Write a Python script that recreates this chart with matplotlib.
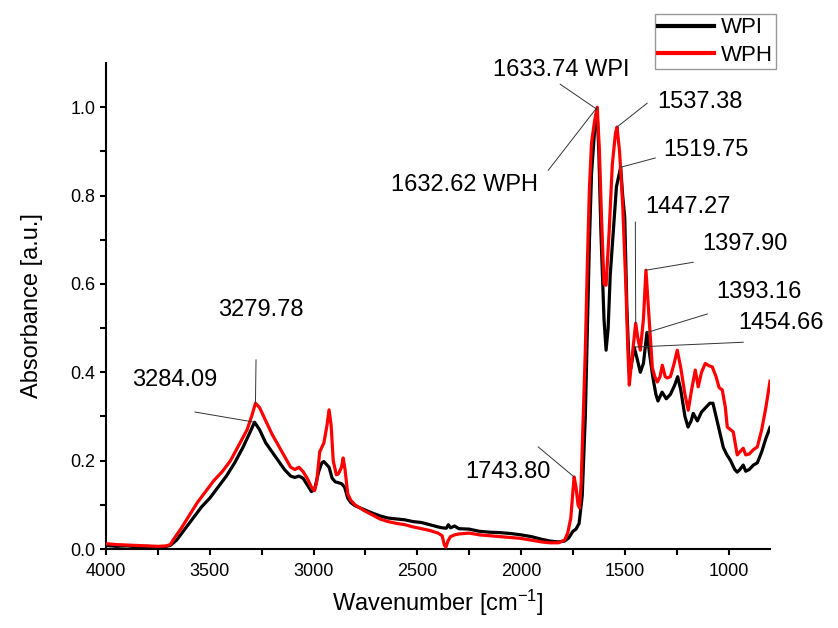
import numpy as np
import matplotlib
matplotlib.use("Agg")
from matplotlib import pyplot as plt
from matplotlib.ticker import FixedLocator

plt.rcParams['font.family'] = ['Liberation Sans', 'DejaVu Sans']
plt.rcParams['mathtext.fontset'] = 'custom'
plt.rcParams['mathtext.rm'] = 'Liberation Sans'
plt.rcParams['mathtext.it'] = 'Liberation Sans:italic'

# FTIR spectra, wavenumber (cm-1) vs absorbance
wpi_wn = [4000, 3950, 3900, 3850, 3800, 3750, 3720, 3690, 3660, 3620, 3580, 3540,
          3500, 3460, 3420, 3380, 3340, 3310, 3284.09, 3260, 3230, 3200, 3170, 3140,
          3110, 3090, 3070, 3050, 3030, 3010, 2995, 2975, 2960, 2950, 2935, 2925,
          2910, 2895, 2880, 2865, 2850, 2835, 2820, 2800, 2760, 2720, 2680, 2640,
          2600, 2560, 2520, 2480, 2440, 2400, 2380, 2360, 2350, 2340, 2320, 2300,
          2250, 2200, 2150, 2100, 2050, 2000, 1950, 1900, 1860, 1820, 1790, 1770,
          1750, 1735, 1720, 1705, 1690, 1680, 1670, 1660, 1645, 1633.74, 1625, 1615,
          1600, 1590, 1580, 1570, 1555, 1540, 1519.75, 1510, 1500, 1490, 1478, 1470,
          1454.66, 1440, 1425, 1410, 1393.16, 1380, 1365, 1350, 1340, 1320, 1300, 1280,
          1260, 1245, 1230, 1210, 1195, 1180, 1170, 1150, 1130, 1110, 1090, 1075,
          1060, 1040, 1025, 1010, 990, 970, 958, 945, 929, 917, 900, 880,
          861, 840, 820, 800]
wpi_abs = [0.008, 0.006, 0.007, 0.005, 0.006, 0.004, 0.005, 0.008, 0.02, 0.045, 0.07, 0.095,
           0.115, 0.14, 0.165, 0.195, 0.23, 0.26, 0.287, 0.27, 0.24, 0.22, 0.20, 0.18,
           0.165, 0.162, 0.165, 0.16, 0.145, 0.13, 0.135, 0.175, 0.195, 0.198, 0.19, 0.185,
           0.16, 0.152, 0.15, 0.148, 0.14, 0.115, 0.105, 0.098, 0.09, 0.082, 0.075, 0.07,
           0.068, 0.066, 0.062, 0.06, 0.055, 0.05, 0.048, 0.047, 0.055, 0.048, 0.052, 0.046,
           0.045, 0.04, 0.038, 0.037, 0.035, 0.032, 0.028, 0.022, 0.018, 0.016, 0.018, 0.025,
           0.04, 0.045, 0.058, 0.12, 0.30, 0.50, 0.70, 0.85, 0.95, 0.995, 0.90, 0.72,
           0.52, 0.45, 0.50, 0.62, 0.72, 0.82, 0.864, 0.80, 0.75, 0.55, 0.40, 0.41,
           0.457, 0.43, 0.40, 0.42, 0.49, 0.44, 0.39, 0.35, 0.335, 0.355, 0.34, 0.35,
           0.37, 0.39, 0.36, 0.30, 0.276, 0.29, 0.307, 0.29, 0.31, 0.32, 0.33, 0.33,
           0.30, 0.26, 0.23, 0.215, 0.20, 0.18, 0.174, 0.18, 0.19, 0.176, 0.18, 0.19,
           0.195, 0.22, 0.25, 0.275]

wph_wn = [4000, 3950, 3900, 3850, 3800, 3750, 3710, 3690, 3670, 3640, 3600, 3560,
          3520, 3480, 3440, 3400, 3360, 3320, 3295, 3279.78, 3260, 3230, 3200, 3170,
          3140, 3110, 3090, 3070, 3050, 3030, 3010, 2995, 2985, 2970, 2960, 2950,
          2935, 2925, 2915, 2905, 2890, 2880, 2865, 2857, 2848, 2835, 2820, 2800,
          2760, 2720, 2680, 2640, 2600, 2560, 2520, 2480, 2440, 2400, 2380, 2370,
          2362, 2352, 2340, 2320, 2300, 2250, 2200, 2150, 2100, 2050, 2000, 1950,
          1900, 1860, 1820, 1790, 1775, 1760, 1750, 1743.80, 1735, 1725, 1718, 1710,
          1700, 1690, 1680, 1670, 1660, 1645, 1632.62, 1622, 1612, 1600, 1590, 1575,
          1560, 1545, 1537.38, 1525, 1510, 1495, 1485, 1478, 1468, 1447.27, 1438, 1425,
          1410, 1397.90, 1385, 1367, 1355, 1343, 1330, 1319, 1305, 1295, 1280, 1262,
          1247, 1230, 1210, 1194, 1178, 1160, 1146, 1130, 1112, 1095, 1078, 1060,
          1045, 1030, 1015, 1006, 990, 977, 958, 945, 929, 917, 900, 880,
          861, 840, 820, 800]
wph_abs = [0.012, 0.010, 0.009, 0.008, 0.007, 0.006, 0.007, 0.010, 0.025, 0.045, 0.075, 0.105,
           0.13, 0.155, 0.175, 0.20, 0.235, 0.27, 0.305, 0.33, 0.32, 0.29, 0.26, 0.235,
           0.21, 0.185, 0.18, 0.185, 0.175, 0.16, 0.14, 0.132, 0.15, 0.22, 0.23, 0.24,
           0.28, 0.315, 0.28, 0.20, 0.168, 0.17, 0.185, 0.206, 0.18, 0.125, 0.11, 0.10,
           0.088, 0.078, 0.068, 0.062, 0.058, 0.055, 0.05, 0.046, 0.042, 0.036, 0.03, 0.01,
           0.004, 0.018, 0.028, 0.032, 0.034, 0.036, 0.032, 0.03, 0.028, 0.026, 0.024, 0.02,
           0.016, 0.014, 0.014, 0.02, 0.036, 0.07, 0.13, 0.163, 0.14, 0.10, 0.093, 0.15,
           0.30, 0.45, 0.65, 0.82, 0.92, 0.97, 1.0, 0.90, 0.75, 0.60, 0.597, 0.72,
           0.87, 0.94, 0.955, 0.90, 0.78, 0.60, 0.45, 0.371, 0.42, 0.511, 0.48, 0.45,
           0.52, 0.631, 0.54, 0.41, 0.39, 0.378, 0.39, 0.416, 0.39, 0.387, 0.39, 0.42,
           0.45, 0.41, 0.35, 0.314, 0.36, 0.405, 0.367, 0.40, 0.42, 0.415, 0.412, 0.39,
           0.365, 0.36, 0.32, 0.276, 0.27, 0.265, 0.213, 0.22, 0.228, 0.213, 0.215, 0.225,
           0.231, 0.27, 0.32, 0.38]

# peak labels: text, series, peak wavenumber, text anchor (wn, abs), leader start (wn, abs)
peak_labels = ["1633.74 WPI", "1632.62 WPH", "1537.38", "1519.75", "1447.27", "1397.90",
               "1393.16", "1454.66", "3279.78", "3284.09", "1743.80"]
peak_series = ["WPI", "WPH", "WPH", "WPI", "WPH", "WPH", "WPI", "WPI", "WPH", "WPI", "WPH"]
peak_wn = [1633.74, 1632.62, 1537.38, 1519.75, 1447.27, 1397.90, 1393.16, 1454.66,
           3279.78, 3284.09, 1743.80]
text_pos = [(2134, 1.084), (2626, 0.824), (1343, 1.011), (1314, 0.903), (1401, 0.774),
            (1126, 0.690), (1059, 0.581), (953, 0.511), (3460, 0.541), (3875, 0.382),
            (2269, 0.174)]
leader_start = [(1811, 1.052), (1869, 0.857), (1392, 1.009), (1353, 0.885), (1449, 0.74),
                (1170, 0.649), (1102, 0.532), (929, 0.468), (3277, 0.428), (3571, 0.31),
                (1917, 0.231)]

fig = plt.figure(figsize=(8.38, 6.28), dpi=100)
ax = fig.add_axes([106 / 838, 79 / 628, 664 / 838, 486 / 628])

ax.plot(wpi_wn, wpi_abs, color='black', lw=2.3, label='WPI', zorder=3)
ax.plot(wph_wn, wph_abs, color='#ff0000', lw=2.3, label='WPH', zorder=4)

series = {"WPI": (wpi_wn, wpi_abs), "WPH": (wph_wn, wph_abs)}
for lab, s, wn, tp, ls in zip(peak_labels, peak_series, peak_wn, text_pos, leader_start):
    xs, ys = series[s]
    peak_y = ys[xs.index(wn)]
    ax.plot([ls[0], wn], [ls[1], peak_y], color='#333333', lw=0.7, zorder=5)
    ax.text(tp[0], tp[1], lab, fontsize=17, ha='left', va='center', clip_on=False)

ax.set_xlim(4000, 800)
ax.set_ylim(0, 1.1)
ax.xaxis.set_major_locator(FixedLocator([4000, 3500, 3000, 2500, 2000, 1500, 1000]))
ax.xaxis.set_minor_locator(FixedLocator([3750, 3250, 2750, 2250, 1750, 1250]))
ax.yaxis.set_major_locator(FixedLocator([0.0, 0.2, 0.4, 0.6, 0.8, 1.0]))
ax.yaxis.set_minor_locator(FixedLocator([0.1, 0.3, 0.5, 0.7, 0.9]))
ax.yaxis.set_major_formatter(plt.FuncFormatter(lambda v, p: "%.1f" % v))

for side in ['top', 'right']:
    ax.spines[side].set_visible(False)
for side in ['left', 'bottom']:
    ax.spines[side].set_linewidth(1.5)
ax.tick_params(which='both', direction='out', length=4, width=1.5, labelsize=13)
ax.tick_params(axis='x', pad=6)

ax.set_xlabel("Wavenumber [cm$^{-1}$]", fontsize=17, labelpad=6)
ax.set_ylabel("Absorbance [a.u.]", fontsize=17, labelpad=20)

leg = fig.legend(loc='upper left', bbox_to_anchor=(655 / 838, 1 - 14 / 628),
                 fontsize=16, frameon=True, fancybox=False, borderpad=0.15,
                 handlelength=2.5, handletextpad=0.3, labelspacing=0.3,
                 borderaxespad=0)
leg.get_frame().set_edgecolor('#808080')
leg.get_frame().set_linewidth(1.0)
for line in leg.get_lines():
    line.set_linewidth(3)

fig.savefig('out.png', dpi=100)
